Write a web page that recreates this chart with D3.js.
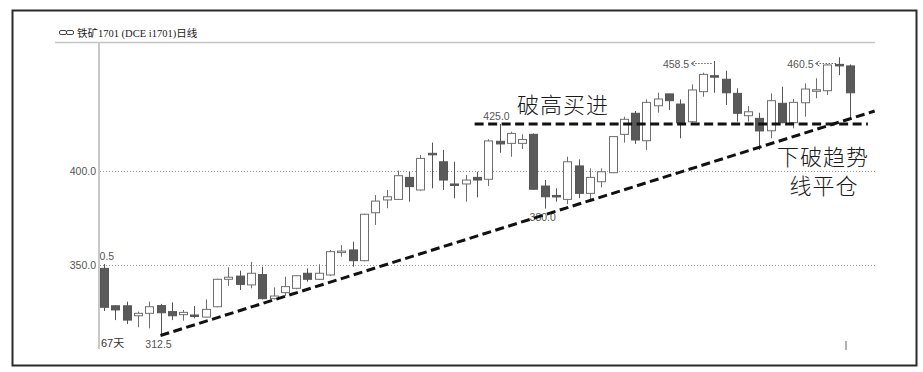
<!DOCTYPE html>
<html>
<head>
<meta charset="utf-8">
<script src="https://cdn.jsdelivr.net/npm/d3@7"></script>
<style>
  body { margin: 0; background: #fff; }
  svg { display: block; }
  .tick-label { font-family: "Liberation Sans", Arial, sans-serif; font-size: 10.5px; fill: #555; }
  .note { font-family: "Noto Sans CJK SC", sans-serif; font-size: 22px; fill: #1a1a1a; font-weight: 300; }
</style>
</head>
<body>
<div id="chart"></div>
<script>
// daily candles, 铁矿1701, 67 days
const opens  = [348.2,328.3,328.3,323.0,324.3,328.4,325.2,323.6,323.4,322.3,327.8,342.4,344.1,339.4,344.9,332.1,335.3,337.6,345.6,342.4,
                344.7,356.8,358.0,352.3,377.8,384.6,384.9,396.6,389.9,409.4,404.9,393.1,393.1,396.6,395.6,415.8,414.7,414.7,419.5,392.0,
                387.0,384.9,402.7,388.1,394.3,399.1,419.5,430.7,416.1,434.7,441.0,435.6,426.2,442.2,450.7,448.8,441.3,429.4,428.0,421.4,
                436.0,425.7,436.3,443.0,442.7,456.7,455.9]
const highs  = [350.5,328.6,330.5,325.2,330.5,329.3,330.1,326.1,328.2,331.7,342.7,348.8,347.0,351.7,349.1,338.1,343.8,344.6,348.2,350.4,
                358.0,360.6,362.4,377.3,387.2,389.9,400.2,399.6,408.5,415.1,411.2,404.9,397.9,399.6,416.9,425.0,420.9,419.5,420.0,395.2,
                390.8,407.6,406.2,401.4,401.4,418.6,428.9,431.9,438.1,441.6,441.2,438.1,446.1,452.3,458.5,453.3,444.0,434.6,431.0,441.3,
                444.8,438.3,446.6,449.3,456.9,460.5,456.7]
const lows   = [325.5,320.7,318.6,316.9,316.3,312.5,320.7,320.4,321.6,322.2,327.5,338.8,336.7,337.6,331.7,331.7,333.5,337.1,341.1,342.0,
                344.1,354.4,349.1,352.0,371.3,380.2,384.6,383.7,389.5,390.8,389.9,385.5,383.7,386.0,392.0,409.7,407.6,411.7,390.0,380.0,
                383.7,382.4,385.5,385.0,391.3,398.8,415.1,414.4,411.2,431.0,432.4,417.4,425.7,439.5,441.6,435.1,426.2,426.2,411.2,417.4,
                425.4,422.7,428.9,438.7,440.4,451.0,428.0]
const closes = [327.5,326.1,320.7,324.3,327.8,324.6,323.0,324.8,322.7,326.4,342.4,343.5,339.7,345.6,332.1,333.5,338.5,344.3,342.4,345.6,
                357.1,357.4,352.3,377.0,384.0,386.3,397.5,391.7,406.7,409.0,395.2,392.9,395.2,395.2,416.0,414.4,420.0,416.8,390.3,386.3,
                386.8,404.9,388.1,396.6,399.6,418.3,427.5,416.5,436.5,438.3,437.4,425.7,443.1,451.4,450.0,441.6,430.7,431.5,421.3,437.4,
                425.7,436.5,443.6,443.2,456.4,456.0,441.6]

const yTicks = [350, 400]
const highLabelIdx = [0, 35]      // high printed above the candle
const highArrowIdx = [54, 65]     // high printed to the left with an arrow
const lowLabelIdx = [5, 39]

// hand drawn lines: [dayIndex, price]
const trendLine = [[5, 312.5], [68.2, 431.9]]
const breakoutLine = [[32.8, 425], [67.6, 425]]

const title = "铁矿1701 (DCE i1701)日线"
const dayCount = "67天"

const candles = opens.map((o, i) => ({ i, o, h: highs[i], l: lows[i], c: closes[i] }))

const width = 923, height = 372

const svg = d3.select("#chart").append("svg")
    .attr("width", width)
    .attr("height", height)

svg.append("rect")
    .attr("width", width).attr("height", height)
    .attr("fill", "#fff")

// outer frame
svg.append("rect")
    .attr("x", 12.5).attr("y", 10.5)
    .attr("width", 904).attr("height", 355)
    .attr("fill", "none")
    .attr("stroke", "#2a2a2a")
    .attr("stroke-width", 2)

// scales
const x = d3.scaleLinear().domain([0, candles.length - 1]).range([104, 849.8])
const y = d3.scaleLinear().domain([350, 400]).range([265, 171])

const plotLeft = 99, plotRight = 875, plotTop = 42, plotBottom = 349

// title
const head = svg.append("g")
head.append("rect").attr("x", 59.5).attr("y", 30.5).attr("width", 7).attr("height", 4).attr("rx", 1.5)
    .attr("fill", "none").attr("stroke", "#444")
head.append("rect").attr("x", 66.5).attr("y", 30.5).attr("width", 7).attr("height", 4).attr("rx", 1.5)
    .attr("fill", "none").attr("stroke", "#444")
head.append("text")
    .attr("x", 77).attr("y", 37)
    .attr("font-family", "'Liberation Serif', 'Noto Sans CJK SC', serif")
    .attr("font-size", "10.5px")
    .attr("fill", "#222")
    .text(title)

// top rule and left axis line
svg.append("line")
    .attr("x1", 55).attr("x2", plotRight)
    .attr("y1", plotTop + 0.5).attr("y2", plotTop + 0.5)
    .attr("stroke", "#c4c4c4").attr("stroke-width", 1.5)
svg.append("line")
    .attr("x1", plotLeft).attr("x2", plotLeft)
    .attr("y1", plotTop).attr("y2", plotBottom)
    .attr("stroke", "#c8c8c8").attr("stroke-width", 2)

// grid + tick labels
const yAxis = d3.axisLeft(y)
    .tickValues(yTicks)
    .tickFormat(d3.format(".1f"))
    .tickSize(-(plotRight - plotLeft))
    .tickPadding(3)

const axisG = svg.append("g")
    .attr("transform", `translate(${plotLeft},0)`)
    .call(yAxis)
axisG.select(".domain").remove()
axisG.selectAll(".tick line")
    .attr("stroke", "#9a9a9a")
    .attr("stroke-dasharray", "1,2")
    .attr("transform", "translate(1,0)")
axisG.selectAll(".tick text")
    .attr("class", "tick-label")
    .attr("font-size", null)
    .attr("font-family", null)
    .attr("fill", null)

// clip for labels that run past the left axis
svg.append("clipPath").attr("id", "plot-clip")
  .append("rect")
    .attr("x", plotLeft + 1).attr("y", plotTop)
    .attr("width", plotRight - plotLeft).attr("height", plotBottom - plotTop)

// candles
const bodyW = 8
const candleG = svg.append("g")

candleG.selectAll(".wick")
  .data(candles)
  .join("line")
    .attr("class", "wick")
    .attr("x1", d => Math.round(x(d.i)) + 0.5)
    .attr("x2", d => Math.round(x(d.i)) + 0.5)
    .attr("y1", d => y(d.h))
    .attr("y2", d => y(d.l))
    .attr("stroke", d => d.c < d.o ? "#555" : "#6e6e6e")
    .attr("stroke-width", 1)

candleG.selectAll(".body")
  .data(candles)
  .join("rect")
    .attr("class", "body")
    .attr("x", d => Math.round(x(d.i)) - bodyW / 2 + 0.5)
    .attr("y", d => y(Math.max(d.o, d.c)))
    .attr("width", bodyW)
    .attr("height", d => Math.max(1.5, Math.abs(y(d.o) - y(d.c))))
    .attr("fill", d => d.c < d.o ? "#5a5a5a" : "#fff")
    .attr("stroke", d => d.c < d.o ? "#555" : "#6e6e6e")
    .attr("stroke-width", 1)

// high / low labels
const fmt = d3.format(".1f")
const labelG = svg.append("g").attr("clip-path", "url(#plot-clip)")

labelG.selectAll(".hi")
  .data(highLabelIdx)
  .join("text")
    .attr("class", "tick-label")
    .attr("x", i => x(i) - 3)
    .attr("y", i => y(highs[i]) - 4)
    .attr("text-anchor", "middle")
    .text(i => fmt(highs[i]))

labelG.selectAll(".lo")
  .data(lowLabelIdx)
  .join("text")
    .attr("class", "tick-label")
    .attr("x", i => x(i) - 2)
    .attr("y", i => y(lows[i]) + 12)
    .attr("text-anchor", "middle")
    .text(i => fmt(lows[i]))

const arrowG = svg.append("g")
highArrowIdx.forEach(i => {
  const cx = x(i)
  const ly = Math.round(Math.max(y(highs[i]), 62.5)) + 0.5
  arrowG.append("text")
      .attr("class", "tick-label")
      .attr("x", cx - 25)
      .attr("y", ly + 4)
      .attr("text-anchor", "end")
      .text(fmt(highs[i]))
  arrowG.append("path")
      .attr("d", `M${cx - 19},${ly - 2.5} L${cx - 23},${ly} L${cx - 19},${ly + 2.5}`)
      .attr("fill", "none").attr("stroke", "#666")
  arrowG.append("line")
      .attr("x1", cx - 22).attr("x2", cx - 2)
      .attr("y1", ly).attr("y2", ly)
      .attr("stroke", "#666")
      .attr("stroke-dasharray", "1.5,1.5")
})

// day count
svg.append("text")
    .attr("x", 101).attr("y", 347)
    .attr("font-family", "'Liberation Sans', 'Noto Sans CJK SC', sans-serif")
    .attr("font-size", "11px")
    .attr("fill", "#333")
    .text(dayCount)

// small marker at the bottom right
svg.append("line")
    .attr("x1", 846).attr("x2", 846)
    .attr("y1", 341).attr("y2", 350)
    .attr("stroke", "#999").attr("stroke-width", 1.5)

// hand drawn dashed lines
const line = d3.line().x(d => x(d[0])).y(d => y(d[1]))

svg.append("path")
    .datum(breakoutLine)
    .attr("d", line)
    .attr("fill", "none")
    .attr("stroke", "#111")
    .attr("stroke-width", 3)
    .attr("stroke-dasharray", "9,4.5")

svg.append("path")
    .datum(trendLine)
    .attr("d", line)
    .attr("fill", "none")
    .attr("stroke", "#111")
    .attr("stroke-width", 3)
    .attr("stroke-dasharray", "9,4.5")

// annotations
svg.append("text")
    .attr("class", "note")
    .attr("x", 563).attr("y", 113)
    .attr("text-anchor", "middle")
    .attr("letter-spacing", "1px")
    .text("破高买进")

svg.append("text")
    .attr("class", "note")
    .attr("x", 823).attr("y", 165)
    .attr("text-anchor", "middle")
    .attr("letter-spacing", "1px")
    .text("下破趋势")

svg.append("text")
    .attr("class", "note")
    .attr("x", 824).attr("y", 194)
    .attr("text-anchor", "middle")
    .attr("letter-spacing", "1px")
    .text("线平仓")
</script>
</body>
</html>
